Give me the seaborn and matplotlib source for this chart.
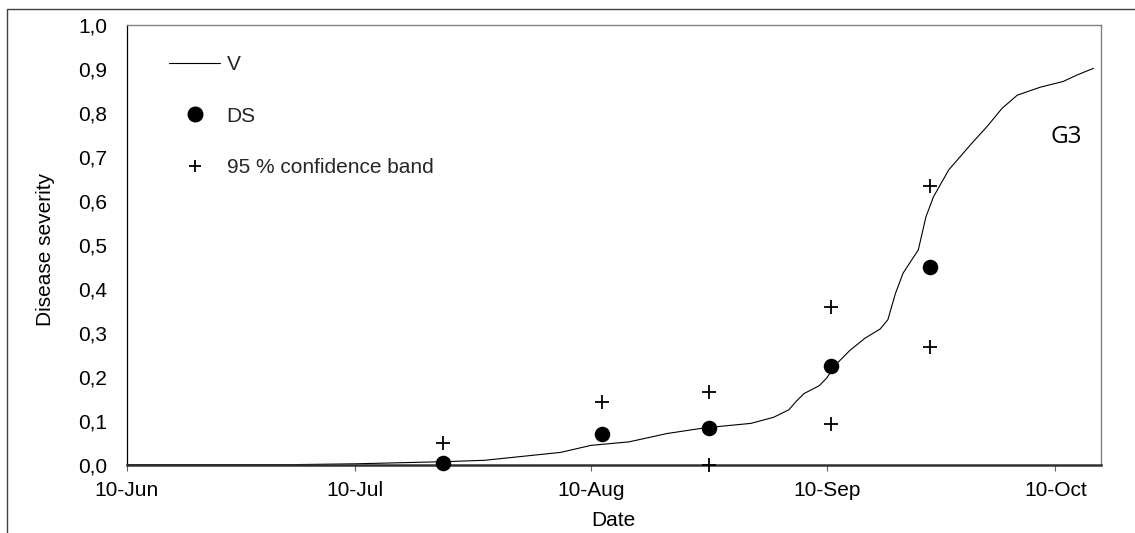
import matplotlib
matplotlib.use("Agg")
import matplotlib.pyplot as plt
from matplotlib.patches import Rectangle
from matplotlib.lines import Line2D
import seaborn as sns
import pandas as pd

# ---- data ----
v_dates = ["2000-06-10", "2000-07-01", "2000-07-10", "2000-07-22", "2000-07-27",
           "2000-08-06", "2000-08-10", "2000-08-15", "2000-08-20", "2000-08-25",
           "2000-08-31", "2000-09-03", "2000-09-05", "2000-09-06", "2000-09-07",
           "2000-09-09", "2000-09-10", "2000-09-11", "2000-09-13", "2000-09-15",
           "2000-09-17", "2000-09-18", "2000-09-19", "2000-09-20", "2000-09-22",
           "2000-09-23", "2000-09-24", "2000-09-26", "2000-09-29", "2000-10-01",
           "2000-10-03", "2000-10-05", "2000-10-08", "2000-10-11", "2000-10-13",
           "2000-10-15"]
v_values = [0.0, 0.0, 0.002, 0.007, 0.010,
            0.028, 0.044, 0.052, 0.071, 0.084,
            0.094, 0.108, 0.125, 0.145, 0.162,
            0.180, 0.198, 0.225, 0.260, 0.288,
            0.309, 0.330, 0.390, 0.436, 0.489,
            0.564, 0.610, 0.671, 0.731, 0.769,
            0.811, 0.841, 0.859, 0.872, 0.888,
            0.902]

ds_dates = ["2000-07-21 12:00", "2000-08-11 12:00", "2000-08-25 12:00",
            "2000-09-10 12:00", "2000-09-23 12:00"]
ds_values = [0.005, 0.070, 0.084, 0.225, 0.449]
ci_upper = [0.049, 0.143, 0.166, 0.358, 0.634]

ci_low_dates = ["2000-08-25 12:00", "2000-09-10 12:00", "2000-09-23 12:00"]
ci_lower = [0.0, 0.093, 0.269]

tick_dates = ["2000-06-10", "2000-07-10", "2000-08-10", "2000-09-10", "2000-10-10"]
tick_labels = ["10-Jun", "10-Jul", "10-Aug", "10-Sep", "10-Oct"]
y_ticks = [0.0, 0.1, 0.2, 0.3, 0.4, 0.5, 0.6, 0.7, 0.8, 0.9, 1.0]

# ---- frames ----
v_df = pd.DataFrame({"date": pd.to_datetime(v_dates), "value": v_values})
ds_df = pd.DataFrame({"date": pd.to_datetime(ds_dates), "value": ds_values})
up_df = pd.DataFrame({"date": pd.to_datetime(ds_dates), "value": ci_upper})
lo_df = pd.DataFrame({"date": pd.to_datetime(ci_low_dates), "value": ci_lower})

sns.set_theme(style="white")
plt.rcParams["font.family"] = ["Liberation Sans", "DejaVu Sans"]

FS = 15
W, H = 1135, 533
fig = plt.figure(figsize=(W / 100, H / 100), dpi=100)
ax = fig.add_axes([126.7 / W, 1 - 464.7 / H, (1101 - 126.7) / W, (464.7 - 25.3) / H])

# outer frame (partially cut off)
fig.add_artist(Rectangle((7.3 / W, -0.2), 1.2, (H - 9) / H + 0.2,
                         transform=fig.transFigure, fill=False,
                         edgecolor="#404040", linewidth=1.0))

sns.lineplot(data=v_df, x="date", y="value", ax=ax, color="black",
             linewidth=0.8, legend=False)
sns.scatterplot(data=ds_df, x="date", y="value", ax=ax, color="black",
                s=125, marker="o", edgecolor="black", linewidth=0,
                legend=False, zorder=4, clip_on=False)
sns.scatterplot(data=up_df, x="date", y="value", ax=ax, color="black",
                s=95, marker="+", linewidth=1.3, legend=False, zorder=5,
                clip_on=False)
sns.scatterplot(data=lo_df, x="date", y="value", ax=ax, color="black",
                s=95, marker="+", linewidth=1.3, legend=False, zorder=5,
                clip_on=False)

ax.set_xlim(pd.Timestamp("2000-06-10"), pd.Timestamp("2000-10-16"))
ax.set_ylim(0, 1.0)
ax.set_xticks(pd.to_datetime(tick_dates))
ax.set_xticklabels(tick_labels)
ax.set_yticks(y_ticks)
ax.set_yticklabels([f"{t:.1f}".replace(".", ",") for t in y_ticks])

ax.tick_params(axis="x", which="major", length=4, width=0.8, color="#606060",
               direction="out", pad=8, labelsize=FS, labelcolor="black", bottom=True)
ax.tick_params(axis="y", length=0, pad=14, labelsize=FS, labelcolor="black")

ax.set_xlabel("Date", fontsize=FS, color="black")
ax.set_ylabel("Disease severity", fontsize=FS, color="black")
ax.xaxis.set_label_coords(0.5, -0.106)
ax.yaxis.set_label_coords(-0.0735, 0.49)

for side in ["top", "right"]:
    ax.spines[side].set_color("#808080")
    ax.spines[side].set_linewidth(1.0)
ax.spines["left"].set_color("black")
ax.spines["left"].set_linewidth(0.9)
ax.spines["bottom"].set_color("#303030")
ax.spines["bottom"].set_linewidth(1.8)

ax.text(0.964, 0.745, "G3", transform=ax.transAxes, fontsize=17.5,
        family=["Open Sans", "DejaVu Sans"], ha="center", va="center",
        color="black")

handles = [
    Line2D([], [], color="black", linewidth=0.8),
    Line2D([], [], color="black", marker="o", linestyle="none", markersize=10.5),
    Line2D([], [], color="black", marker="+", linestyle="none", markersize=9,
           markeredgewidth=1.3),
]
ax.legend(handles, ["V", "DS", "95 % confidence band"], loc="upper left",
          bbox_to_anchor=(0.0434, 0.9326), frameon=False, fontsize=FS,
          handlelength=2.45, handletextpad=0.32, labelspacing=1.57,
          borderpad=0, borderaxespad=0)

fig.savefig("out.png", dpi=100)
